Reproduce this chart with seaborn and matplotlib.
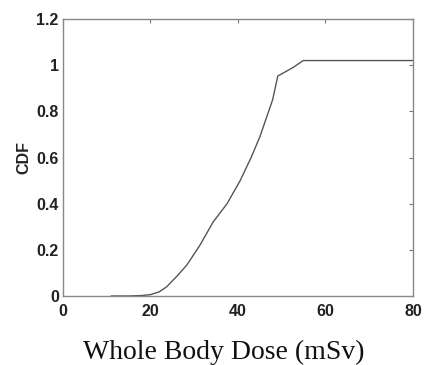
import matplotlib
matplotlib.use("Agg")
import matplotlib.pyplot as plt
import seaborn as sns
import pandas as pd
from matplotlib.ticker import FuncFormatter

dose = [11.0, 15.0, 18.0, 20.0, 22.0, 23.7, 26.0, 28.3, 31.3, 34.3, 37.5, 40.5, 43.0, 45.0, 47.9, 49.1, 52.6, 54.9, 80.0]
cdf = [0.0, 0.0, 0.002, 0.006, 0.018, 0.04, 0.085, 0.134, 0.22, 0.32, 0.40, 0.50, 0.60, 0.69, 0.849, 0.953, 0.99, 1.02, 1.02]

xticks = [0, 20, 40, 60, 80]
yticks = [0, 0.2, 0.4, 0.6, 0.8, 1.0, 1.2]

sns.set_style("white")
plt.rcParams['font.family'] = ['Liberation Sans', 'DejaVu Sans']

fig = plt.figure(figsize=(4.27, 3.65), dpi=100)
ax = fig.add_axes([63/427, 1 - 296/365, (413 - 63)/427, (296 - 19)/365])

df = pd.DataFrame({"dose": dose, "cdf": cdf})
sns.lineplot(data=df, x="dose", y="cdf", ax=ax, color="#555555", linewidth=1.0)

ax.set_xlim(0, 80)
ax.set_ylim(0, 1.2)
ax.set_xticks(xticks)
ax.set_yticks(yticks)
fmt = FuncFormatter(lambda v, p: f"{v:g}")
ax.xaxis.set_major_formatter(fmt)
ax.yaxis.set_major_formatter(fmt)
ax.tick_params(direction="in", top=True, right=True, length=3, width=0.8,
               color="#777777", labelsize=11.5)
ax.tick_params(axis="x", pad=6)
ax.tick_params(axis="y", pad=3)
for lab in ax.get_xticklabels() + ax.get_yticklabels():
    lab.set_fontweight("bold")
    lab.set_color("#222222")
for s in ax.spines.values():
    s.set_color("#888888")
    s.set_linewidth(1.0)

ax.set_ylabel("CDF", fontsize=11.5, fontweight="bold", color="#222222", labelpad=4)
ax.set_xlabel("Whole Body Dose (mSv)", fontsize=20, family=["Liberation Serif"],
              color="#111111")
ax.xaxis.set_label_coords(0.46, -0.158)

fig.savefig("out.png", dpi=100, facecolor="white")
